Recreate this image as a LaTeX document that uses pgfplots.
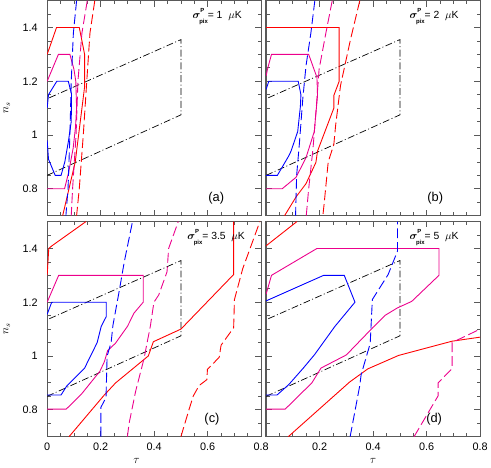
\documentclass[border=0pt]{standalone}
\usepackage{fontspec}
\setmainfont{Liberation Sans}
\usepackage{pgfplots}
\pgfplotsset{compat=1.18}
\usepgfplotslibrary{groupplots}

\pgfplotsset{
  panel/.style={
    scale only axis, width=217pt, height=218pt,
    xmin=0, xmax=0.8, ymin=0.7, ymax=1.5,
    xtick={0,0.2,0.4,0.6,0.8}, ytick={0.8,1,1.2,1.4},
    minor xtick={0,0.05,...,0.8}, minor ytick={0.7,0.75,...,1.5},
    tick align=inside, major tick length=6pt, minor tick length=3.5pt,
    axis line style={line width=1.3pt, black!65},
    tick style={black!65, line width=0.8pt},
    ticklabel style={font=\fontsize{11}{13}\selectfont},
    /pgf/number format/assume math mode=true,
    yticklabel shift=6pt, xticklabel shift=3pt,
  },
  rs/.style={red, line width=0.9pt},
  rd/.style={red, line width=0.9pt, dash pattern=on 10pt off 4pt},
  ms/.style={magenta, line width=0.9pt},
  md/.style={magenta, line width=0.9pt, dash pattern=on 10pt off 4pt},
  bs/.style={blue, line width=0.9pt},
  bd/.style={blue, line width=0.9pt, dash pattern=on 10pt off 4pt},
  box/.style={black, line width=0.7pt, dash pattern=on 7pt off 2.5pt on 1pt off 2.5pt},
  nslab/.style={ylabel={$n_s$}, ylabel style={font=\large, at={([xshift=-41pt]rel axis cs:0,0.5)}, anchor=center}},
}

\newcommand{\sig}[1]{{\boldmath$\sigma$}\raisebox{1.15ex}{\fontsize{6}{6}\selectfont\bfseries P}\kern-0.5em\raisebox{-0.9ex}{\fontsize{6}{6}\selectfont\bfseries pix}= #1\ \ $\mu$K}

\begin{document}
\begin{tikzpicture}
\begin{groupplot}[
    group style={group size=2 by 2, horizontal sep=5pt, vertical sep=6pt,
      xticklabels at=edge bottom, yticklabels at=edge left},
    panel]

% ---------- (a) sigma = 1
\nextgroupplot[nslab]
\addplot[box] coordinates {(0,0.85) (0.5,1.075) (0.5,1.355) (0,1.135)};
\addplot[rs] coordinates {(0,1.3) (0.035,1.4) (0.12,1.4) (0.14,1.3) (0.14,1.18) (0.105,0.9) (0.058,0.7)};
\addplot[rd] coordinates {(0.178,1.5) (0.16,1.38) (0.148,1.2) (0.135,1.0) (0.12,0.8) (0.11,0.7)};
\addplot[ms] coordinates {(0,1.2) (0.042,1.3) (0.085,1.3) (0.1,1.245) (0.107,1.2) (0.11,1.1) (0.106,1.03) (0.097,0.95) (0.08,0.86) (0.065,0.8) (0,0.8)};
\addplot[md] coordinates {(0.15,1.5) (0.13,1.38) (0.115,1.2) (0.108,1.0) (0.095,0.8) (0.09,0.7)};
\addplot[bd] coordinates {(0.11,1.5) (0.098,1.38) (0.09,1.2) (0.085,1.0) (0.078,0.8) (0.07,0.7)};
\addplot[bs] coordinates {(0,1.1) (0.005,1.15) (0.036,1.2) (0.079,1.2) (0.091,1.153) (0.09,1.05) (0.08,0.98) (0.066,0.9) (0.052,0.85) (0.03,0.85) (0.005,0.91) (0,0.98)};
\node[anchor=east, font=\fontsize{10.5}{12}\selectfont] at (rel axis cs:0.925,0.925) {\sig{1}};
\node[font=\fontsize{13}{15}\selectfont] at (rel axis cs:0.79,0.08) {(a)};

% ---------- (b) sigma = 2
\nextgroupplot
\addplot[box] coordinates {(0,0.85) (0.5,1.075) (0.5,1.355) (0,1.135)};
\addplot[rs] coordinates {(0,1.4) (0.273,1.4) (0.273,1.2) (0.253,1.147) (0.253,1.1) (0.192,0.94) (0.186,0.898) (0.149,0.819) (0.112,0.77) (0.069,0.7)};
\addplot[rd] coordinates {(0.35,1.5) (0.315,1.354) (0.278,1.184) (0.26,1.038) (0.253,0.965) (0.232,0.9) (0.217,0.746) (0.212,0.7)};
\addplot[ms] coordinates {(0,1.22) (0.005,1.245) (0.02,1.3) (0.159,1.3) (0.19,1.214) (0.192,1.147) (0.18,1.013) (0.149,0.916) (0.112,0.843) (0.06,0.8) (0,0.8)};
\addplot[md] coordinates {(0.247,1.5) (0.223,1.378) (0.198,1.245) (0.188,1.11) (0.175,0.948) (0.159,0.8) (0.15,0.7)};
\addplot[bd] coordinates {(0.182,1.5) (0.167,1.378) (0.149,1.257) (0.137,1.135) (0.124,0.965) (0.114,0.85) (0.11,0.7)};
\addplot[bs] coordinates {(0,1.17) (0.01,1.2) (0.12,1.2) (0.13,1.15) (0.128,1.106) (0.118,1.013) (0.093,0.94) (0.085,0.923) (0.042,0.85) (0,0.85)};
\node[anchor=east, font=\fontsize{10.5}{12}\selectfont] at (rel axis cs:0.915,0.925) {\sig{2}};
\node[font=\fontsize{13}{15}\selectfont] at (rel axis cs:0.79,0.08) {(b)};

% ---------- (c) sigma = 3.5
\nextgroupplot[nslab, xlabel={$\tau$},
  xlabel style={font=\large, at={([xshift=-18pt,yshift=-25pt]rel axis cs:0.5,0)}, anchor=center}]
\addplot[box] coordinates {(0,0.85) (0.5,1.075) (0.5,1.355) (0,1.135)};
\addplot[rs] coordinates {(0,1.3) (0.006,1.4) (0.018,1.41) (0.145,1.5)};
\addplot[rs] coordinates {(0.082,0.7) (0.212,0.853) (0.256,0.9) (0.378,1.0) (0.397,1.053) (0.5,1.1) (0.697,1.303) (0.697,1.5)};
\addplot[rd] coordinates {(0.5,0.7) (0.53,0.8) (0.546,0.851) (0.568,0.89) (0.597,0.912) (0.599,0.95) (0.643,0.995) (0.65,1.04) (0.697,1.105) (0.7,1.21) (0.731,1.325) (0.795,1.5)};
\addplot[ms] coordinates {(0,1.2) (0.043,1.3) (0.359,1.3) (0.359,1.2) (0.325,1.16) (0.3,1.11) (0.255,1.047) (0.226,1.02) (0.214,0.979) (0.197,0.943) (0.128,0.858) (0.071,0.802) (0,0.802)};
\addplot[md] coordinates {(0.3,0.7) (0.306,0.748) (0.331,0.87) (0.362,0.99) (0.386,1.113) (0.399,1.2) (0.417,1.227) (0.448,1.313) (0.454,1.4) (0.49,1.5)};
\addplot[bd] coordinates {(0.201,0.7) (0.201,0.809) (0.22,0.846) (0.224,0.999) (0.239,1.05) (0.246,1.115) (0.269,1.24) (0.288,1.349) (0.319,1.5)};
\addplot[bs] coordinates {(0,1.155) (0.017,1.2) (0.221,1.2) (0.221,1.147) (0.202,1.11) (0.187,1.05) (0.14,0.955) (0.073,0.888) (0.052,0.855) (0,0.855)};
\node[anchor=east, font=\fontsize{10.5}{12}\selectfont] at (rel axis cs:0.94,0.925) {\sig{3.5}};
\node[font=\fontsize{13}{15}\selectfont] at (rel axis cs:0.77,0.08) {(c)};

% ---------- (d) sigma = 5
\nextgroupplot[xlabel={$\tau$}, xticklabels={,0.2,0.4,0.6,0.8},
  xlabel style={font=\large, at={([yshift=-25pt]rel axis cs:0.5,0)}, anchor=center}]
\addplot[box] coordinates {(0,0.85) (0.5,1.075) (0.5,1.355) (0,1.135)};
\addplot[rs] coordinates {(0,1.41) (0.115,1.5)};
\addplot[rs] coordinates {(0.083,0.7) (0.312,0.903) (0.38,0.952) (0.495,1.002) (0.695,1.055) (0.8,1.07)};
\addplot[ms] coordinates {(0,1.23) (0.02,1.3) (0.19,1.4) (0.646,1.4) (0.646,1.3) (0.544,1.203) (0.491,1.179) (0.446,1.152) (0.399,1.106) (0.3,1.004) (0.205,0.955) (0.171,0.9) (0.071,0.802) (0,0.802)};
\addplot[md] coordinates {(0.553,0.7) (0.643,0.852) (0.643,0.9) (0.695,0.953) (0.695,1.05) (0.8,1.1)};
\addplot[bd] coordinates {(0.314,0.7) (0.35,0.89) (0.355,0.93) (0.389,1.047) (0.397,1.21) (0.456,1.303) (0.491,1.39) (0.491,1.5)};
\addplot[bs] coordinates {(0,1.205) (0.215,1.3) (0.292,1.3) (0.332,1.2) (0.257,1.11) (0.215,1.052) (0.181,1.005) (0.139,0.955) (0.085,0.894) (0.041,0.855) (0,0.855)};
\node[anchor=east, font=\fontsize{10.5}{12}\selectfont] at (rel axis cs:0.915,0.925) {\sig{5}};
\node[font=\fontsize{13}{15}\selectfont] at (rel axis cs:0.785,0.08) {(d)};
\end{groupplot}
\end{tikzpicture}
\end{document}
